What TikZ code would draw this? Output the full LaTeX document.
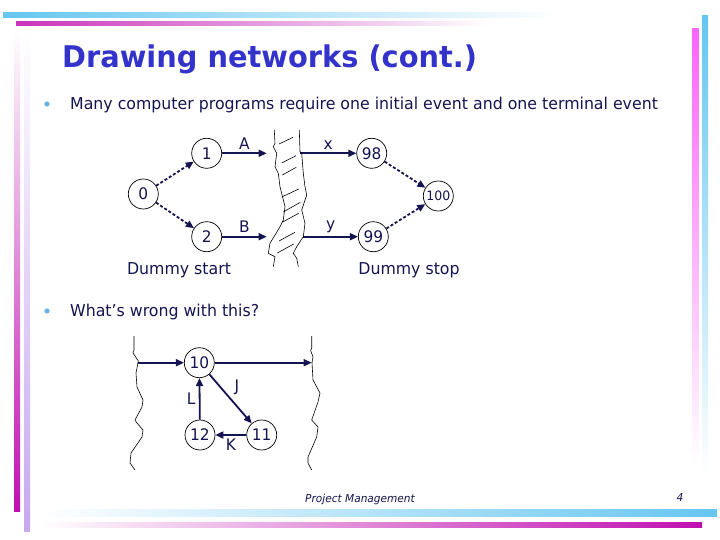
\documentclass[tikz,border=0pt]{standalone}
\usepackage{fontspec}
\setmainfont{DejaVu Sans}[FakeStretch=0.965]
\usetikzlibrary{arrows.meta}
\definecolor{navy}{RGB}{20,20,80}
\definecolor{titleblue}{RGB}{51,51,204}
\definecolor{barcyan}{RGB}{102,198,240}
\definecolor{barpink}{RGB}{250,100,250}
\definecolor{barmag}{RGB}{192,16,176}
\definecolor{barlav}{RGB}{200,168,240}
\definecolor{dotcyan}{RGB}{100,180,230}
\tikzset{
  evt/.style={circle,draw=black,line width=0.7bp,minimum size=30bp,inner sep=0pt,
    text=navy,font=\fontsize{16}{16}\selectfont},
  act/.style={draw=navy,line width=1.8bp,-{Triangle[length=8bp,width=7bp]}},
  dummy/.style={act,dash pattern=on 3bp off 2bp},
  lbl/.style={text=navy,font=\fontsize{16}{16}\selectfont},
  wall/.style={draw=black,line width=0.6bp}
}
\begin{document}
\begin{tikzpicture}[x=1bp,y=-1bp]
\useasboundingbox (0,0) rectangle (720,540);
% frame bars
\fill[left color=barcyan,right color=white] (3,12.7) rectangle (560,17.3);
\fill[left color=barmag!85,right color=white] (16,21.7) rectangle (490,26);
\fill[top color=barpink,bottom color=white] (692,29) rectangle (698.7,465);
\fill[top color=barcyan,bottom color=white] (702,16) rectangle (708,475);
\fill[left color=white,right color=barcyan] (40,509) rectangle (717,516);
\fill[left color=white,right color=barmag] (40,522) rectangle (702,527);
\fill[top color=white,bottom color=barmag] (14,30) rectangle (20,511);
\fill[top color=white,bottom color=barlav] (24,30) rectangle (30,531);
% title and bullets
\node[anchor=base west,text=titleblue,font=\fontsize{30}{30}\selectfont\bfseries,inner sep=0pt]
  (title) at (62,68) {Drawing networks (cont.)};
\fill[dotcyan] (47,104) circle (2.6);
\fill[dotcyan] (47,311) circle (2.6);
\node[anchor=base west,text=navy,font=\fontsize{16.4}{16.4}\selectfont,inner sep=0pt]
  (b1) at (70,109.5) {Many computer programs require one initial event and one terminal event};
\node[anchor=base west,text=navy,font=\fontsize{16.4}{16.4}\selectfont,inner sep=0pt]
  (b2) at (70,316.5) {What’s wrong with this?};

% first network
\node[evt] (n0) at (143.3,194) {0};
\node[evt] (n1) at (206.7,153.3) {1};
\node[evt] (n2) at (206.7,236.7) {2};
\node[evt] (n98) at (371.7,153.3) {98};
\node[evt] (n99) at (373.3,236.7) {99};
\node[evt,font=\fontsize{13}{13}\selectfont] (n100) at (438.3,196) {100};
\coordinate (wa) at (266.7,153.3);
\coordinate (wb) at (266.7,236.7);
\coordinate (wx) at (300,153.3);
\coordinate (wy) at (303.3,236.7);
\draw[dummy] (n0) -- (n1);
\draw[dummy] (n0) -- (n2);
\draw[dummy] (n98) -- (n100);
\draw[dummy] (n99) -- (n100);
\draw[act] (n1) -- (wa) node[midway,above,lbl] {A};
\draw[act] (n2) -- (wb) node[midway,above,lbl] {B};
\draw[act] (wx) -- (n98) node[midway,above,lbl] {x};
\draw[act] (wy) -- (n99) node[midway,above,lbl] {y};
\node[lbl,font=\fontsize{16.4}{16.4}\selectfont] (ds) at (179,270) {Dummy start};
\node[lbl,font=\fontsize{16.4}{16.4}\selectfont] (dp) at (409,270) {Dummy stop};
% torn wall
\draw[wall] (274.3,130) -- (275,143.3) -- (273.3,146.7) -- (276.7,153.3) -- (275,166.7)
  -- (278.3,173.3) -- (280,186.7) -- (285,206.7) -- (283.3,220) -- (280,226.7)
  -- (270,243.3) -- (268.3,253.3) -- (275,256.7) -- (273.3,266.7);
\draw[wall] (299.3,130) -- (300,151.7) -- (301.7,153.3) -- (303.3,173.3) -- (305,186.7)
  -- (306.7,195) -- (301.7,210) -- (305,223.3) -- (303.3,236.7) -- (296.7,246.7)
  -- (293.3,253.3) -- (296.7,258.3) -- (298.3,266.7);
\foreach \xa/\ya/\xb/\yb in {279/144/293/137.3, 281.7/163/296/155.7,
    282.3/175/296.3/167.3, 281.7/197/298.7/189, 283.3/212/300.3/202.3,
    282.7/222/298.7/213.3, 279/241/295/232.3, 277.3/253/293.7/244}
  \draw[wall] (\xa,\ya) -- (\xb,\yb);

% second network
\node[evt] (n10) at (199.3,362.7) {10};
\node[evt] (n12) at (200,435) {12};
\node[evt] (n11) at (261.7,435) {11};
\coordinate (wl) at (138.3,362.7);
\coordinate (wr) at (311.7,362.7);
\draw[act] (wl) -- (n10);
\draw[act] (n10) -- (wr);
\draw[act] (n10) -- (n11) node[midway,above right,lbl] {J};
\draw[act] (n11) -- (n12) node[midway,below,lbl] {K};
\draw[act] (n12) -- (n10) node[midway,left,lbl] {L};
\draw[wall] (134,336) -- (134,350) -- (133,353) -- (138.3,361) -- (136,373) -- (137,387)
  -- (143,400) -- (142,407) -- (135,420) -- (137,423) -- (143,430) -- (142,437)
  -- (131,453) -- (130,463) -- (135,470);
\draw[wall] (311.7,336) -- (311.7,348) -- (310.7,350.7) -- (313,357) -- (312,362.7)
  -- (313,380) -- (320,393) -- (318,402) -- (311.7,420) -- (318,427) -- (316.7,437)
  -- (308,457) -- (308,463) -- (311.7,470);

% footer
\node[text=navy,font=\fontsize{11}{11}\selectfont\itshape] (foot) at (360,499) {Project Management};
\node[text=navy,font=\fontsize{11}{11}\selectfont\itshape] (page) at (680,498) {4};
\end{tikzpicture}
\end{document}
